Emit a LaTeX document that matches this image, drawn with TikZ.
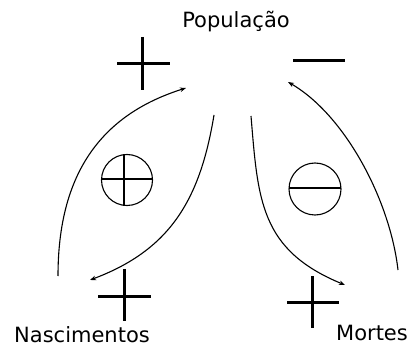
\documentclass[tikz,border=0pt]{standalone}
\usepackage{fontspec}
\setmainfont{DejaVu Sans}
\usetikzlibrary{arrows.meta}
\begin{document}
\begin{tikzpicture}[x=1pt,y=-1pt,
  lbl/.style={inner sep=0pt,font=\fontsize{21}{25}\selectfont},
  sign/.style={line width=3pt},
  flow/.style={line width=1.1pt},
  tip/.style={-{Stealth[length=6pt,width=4.5pt]}},
  ring/.style={line width=1.1pt}]
\useasboundingbox (0,0) rectangle (412,347);
% labels
\node[lbl,anchor=base] (pop) at (236,28) {População};
\node[lbl,anchor=base] (nasc) at (82,342) {Nascimentos};
\node[lbl,anchor=base] (mort) at (372,340) {Mortes};
% signs
\draw[sign] (117,64) -- (170,64) (142,37) -- (142,90);
\draw[sign] (293,61) -- (345,61);
\draw[sign] (98,296) -- (151,296) (124,269) -- (124,321);
\draw[sign] (287,302) -- (339,302) (312,276) -- (312,328);
% circles
\draw[ring] (127,180) circle (25.5);
\draw[line width=2.5pt] (102,179) -- (152,179) (124,154) -- (124,206);
\draw[ring] (315,189) circle (26);
\draw[line width=2.5pt] (289,188) -- (341,188);
% curve ends
\coordinate (lo0) at (58,276);
\coordinate (lo1) at (186,88);
\coordinate (li0) at (214,115);
\coordinate (li1) at (90,280);
\coordinate (ri0) at (251,116);
\coordinate (ri1) at (345,285);
\coordinate (ro0) at (398,270);
\coordinate (ro1) at (288,82);
% flows
\draw[flow,tip] (lo0) .. controls (58,175) and (100,115) .. (lo1);
\draw[flow,tip] (li0) .. controls (200,200) and (170,250) .. (li1);
\draw[flow,tip] (ri0) .. controls (258,200) and (260,250) .. (ri1);
\draw[flow,tip] (ro0) .. controls (390,200) and (345,115) .. (ro1);
\end{tikzpicture}
\end{document}
